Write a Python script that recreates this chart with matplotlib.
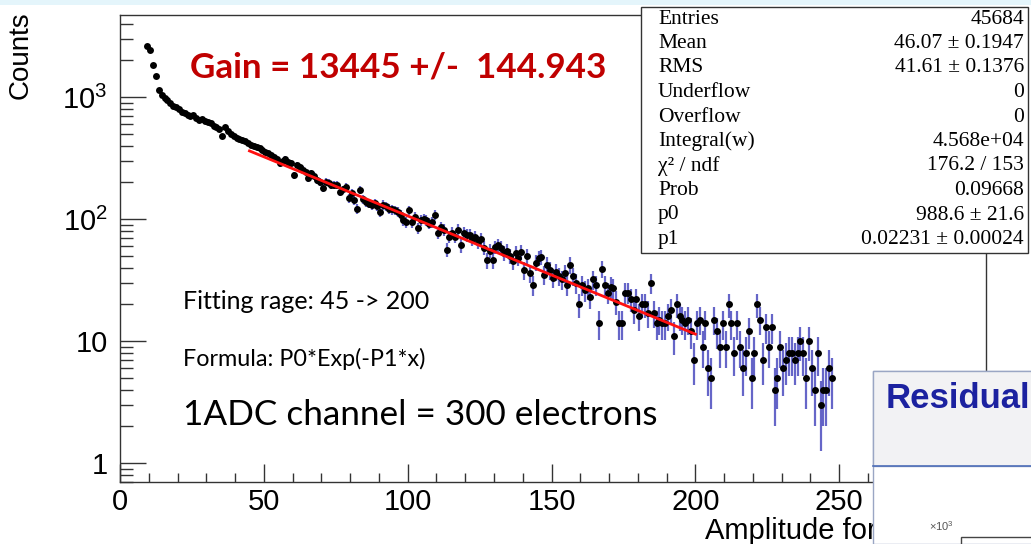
import numpy as np
import matplotlib
matplotlib.use("Agg")
import matplotlib.pyplot as plt
from matplotlib.patches import Rectangle
from matplotlib.lines import Line2D
from matplotlib.ticker import FixedLocator, LogLocator, NullFormatter, FixedFormatter, MultipleLocator

# ---------------- data ----------------
first_bin = 9  # lower edge of the first filled bin, bin width = 1 ADC channel
counts = [
    2617, 2438, 1834, 1481, 1136, 1038, 983, 940, 896, 852, 830,
    797, 753, 742, 720, 698, 709, 676, 654, 665, 643,
    626, 610, 576, 565, 548, 476, 565, 526, 498, 476,
    465, 453, 446, 436, 420, 403, 397, 393, 380, 369,
    358, 346, 335, 324, 312, 286, 301, 309, 295, 286,
    230, 278, 268, 255, 244, 216, 237, 227, 209, 202,
    179, 203, 198, 192, 190, 191, 168, 175, 184, 148,
    163, 143, 122, 173, 145, 138, 134, 131, 135, 128,
    115, 131, 127, 122, 120, 118, 115, 108, 98, 95,
    118, 95, 104, 84, 98, 101, 98, 92, 95, 108,
    77, 86, 82, 56, 72, 77, 72, 82, 61, 77,
    74, 74, 69, 72, 65, 69, 58, 46, 55, 46,
    59, 61, 58, 53, 55, 50, 45, 53, 48, 54,
    38, 50, 36, 29, 44, 48, 49, 35, 42, 38,
    33, 37, 34, 32, 36, 29, 42, 34, 30, 20,
    29, 26, 27, 23, 32, 29, 14, 39, 29, 25,
    28, 27, 21, 14, 14, 25, 25, 22, 18, 22,
    16, 20, 20, 17, 30, 17, 14, 15, 14, 14,
    16, 18, 11, 20, 16, 15, 14, 15, 12, 7,
    14, 15, 9, 14, 6, 5, 15, 12, 9, 14,
    9, 20, 14, 8, 14, 9, 6, 8, 12, 5,
    8, 20, 15, 7, 13, 9, 13, 4, 5, 9,
    6, 7, 8, 8, 7, 8, 10, 8, 5, 10,
    6, 4, 8, 3, 4, 4, 6, 5,
]
fit_p0 = 988.6        # fit parameters shown in the stats box
fit_p1 = 0.02231
fit_range = [45, 200]  # fitted interval (ADC channels)

x_ticks = [0, 50, 100, 150, 200, 250, 300]
x_tick_labels = ["0", "50", "100", "150", "200", "250", "300"]
y_ticks = [1, 10, 100, 1000]
y_tick_labels = ["1", "10", r"$10^{2}$", r"$10^{3}$"]

stats_names = ["Entries", "Mean", "RMS", "Underflow", "Overflow", "Integral(w)",
               "χ² / ndf", "Prob", "p0", "p1"]
stats_values = ["45684", "46.07 ± 0.1947", "41.61 ± 0.1376", "0", "0", "4.568e+04",
                "176.2 / 153", "0.09668", "988.6 ± 21.6", "0.02231 ± 0.00024"]

gain_text = "Gain = 13445 +/-  144.943"
note_lines = ["Fitting rage: 45 -> 200", "Formula: P0*Exp(-P1*x)",
              "1ADC channel = 300 electrons"]
x_title = "Amplitude for"
y_title = "Counts"
panel_title = "Residual"

# ---------------- style ----------------
plt.rcParams["mathtext.fontset"] = "custom"
plt.rcParams["mathtext.rm"] = "Liberation Sans"
plt.rcParams["mathtext.it"] = "Liberation Sans:italic"
plt.rcParams["mathtext.bf"] = "Liberation Sans:bold"
plt.rcParams["font.family"] = ["Liberation Sans", "DejaVu Sans"]

W, H = 1031, 544
fig = plt.figure(figsize=(W / 100, H / 100), dpi=100)
fig.patch.set_facecolor("white")


def fx(px):
    return px / W


def fy(py):
    return 1 - py / H


renderer = fig.canvas.get_renderer()


def fit_text(x_px, base_px, width_px, s, **kw):
    t = fig.text(fx(x_px), fy(base_px), s, ha="left", va="baseline", fontsize=20, **kw)
    bb = t.get_window_extent(renderer=renderer)
    t.set_fontsize(20 * width_px / bb.width)
    return t


# top light-blue strip of the slide
fig.add_artist(Rectangle((0, fy(5)), 1, 5 / H, transform=fig.transFigure,
                         facecolor="#e4f5fb", edgecolor="none", zorder=0))

# ---------------- main axes ----------------
ax_l, ax_r, ax_t, ax_b = 120, 986, 15, 482
ax = fig.add_axes([fx(ax_l), fy(ax_b), fx(ax_r) - fx(ax_l), fy(ax_t) - fy(ax_b)])
ax.set_yscale("log")
ax.set_xlim(0, 301)
ax.set_ylim(0.70, 4710)

centers = first_bin + np.arange(len(counts)) + 0.5
cnt = np.asarray(counts, dtype=float)
ax.errorbar(centers, cnt, yerr=np.sqrt(cnt), fmt="none", ecolor="#4040bb",
            elinewidth=1.6, alpha=0.8, zorder=2)
ax.plot(centers, cnt, "o", color="black", ms=5, mew=0, zorder=3)
xf = np.linspace(fit_range[0], fit_range[1], 100)
ax.plot(xf, fit_p0 * np.exp(-fit_p1 * xf), color="#ff1010", lw=2, zorder=4)

ax.xaxis.set_major_locator(FixedLocator(x_ticks))
ax.xaxis.set_major_formatter(FixedFormatter(x_tick_labels))
ax.xaxis.set_minor_locator(MultipleLocator(10))
ax.yaxis.set_major_locator(FixedLocator(y_ticks))
ax.yaxis.set_major_formatter(FixedFormatter(y_tick_labels))
ax.yaxis.set_minor_locator(LogLocator(base=10, subs=np.arange(2, 10)))
ax.yaxis.set_minor_formatter(NullFormatter())

ax.tick_params(axis="x", which="major", direction="in", length=13, width=1,
               color="#333333", labelsize=21, pad=4)
ax.tick_params(axis="x", which="minor", direction="in", length=6.5, width=1,
               color="#333333")
ax.tick_params(axis="y", which="major", direction="in", length=18.5, width=1,
               color="#333333", labelsize=21, pad=9)
ax.tick_params(axis="y", which="minor", direction="in", length=9.5, width=1,
               color="#333333")
for sp in ax.spines.values():
    sp.set_linewidth(1)
    sp.set_color("#333333")

# axis titles
fig.text(fx(21), fy(11), y_title, rotation=90, ha="center", va="top", fontsize=20)
fig.text(fx(705), fy(539), x_title, ha="left", va="baseline", fontsize=21)

# slide annotations
fit_text(190, 78, 416, gain_text, family=["Lato", "DejaVu Sans"], weight="bold",
         color="#c00000")
fit_text(183, 309, 247, note_lines[0], family=["Lato", "DejaVu Sans"])
fit_text(183, 366, 242, note_lines[1], family=["Lato", "DejaVu Sans"])
fit_text(183, 425, 475, note_lines[2], family=["Lato", "DejaVu Sans"])

# ---------------- stats box ----------------
sb_l, sb_t, sb_r, sb_b = 641, 7, 1028, 253
fig.add_artist(Rectangle((fx(sb_l), fy(sb_b)), fx(sb_r) - fx(sb_l), fy(sb_t) - fy(sb_b),
                         transform=fig.transFigure, facecolor="white",
                         edgecolor="#333333", lw=1, zorder=5))
for k, (nm, val) in enumerate(zip(stats_names, stats_values)):
    yc = 19 + 24.5 * k
    fig.text(fx(658), fy(yc), nm, ha="left", va="center", fontsize=15.5,
             family=["Liberation Serif", "DejaVu Serif"], zorder=6)
    fig.text(fx(1024), fy(yc), val, ha="right", va="center", fontsize=15.5,
             family=["Liberation Serif", "DejaVu Serif"], zorder=6)

# ---------------- residual panel (partly visible) ----------------
rp_l, rp_t = 873, 371
fig.add_artist(Rectangle((fx(rp_l), 0), 1 - fx(rp_l) + 0.01, fy(rp_t),
                         transform=fig.transFigure, facecolor="white",
                         edgecolor="#9aa6c4", lw=1, zorder=7))
fig.add_artist(Rectangle((fx(rp_l), fy(466)), 1 - fx(rp_l) + 0.01, fy(rp_t) - fy(466),
                         transform=fig.transFigure, facecolor="#f2f2f4",
                         edgecolor="#9aa6c4", lw=1, zorder=7))
fig.add_artist(Line2D([fx(rp_l), 1], [fy(466), fy(466)], transform=fig.transFigure,
                      color="#4f6fb8", lw=1.2, zorder=8))
fig.text(fx(886), fy(408), panel_title, ha="left", va="baseline", fontsize=25,
         weight="bold", color="#1c22a0", zorder=9)
fig.text(fx(929), fy(531), r"$\times10^{3}$", ha="left", va="baseline", fontsize=8,
         color="#555555", zorder=9)
fig.add_artist(Rectangle((fx(961), fy(560)), 0.2, fy(537) - fy(560),
                         transform=fig.transFigure, facecolor="none",
                         edgecolor="#444444", lw=1, zorder=9))

fig.savefig("out.png", dpi=100)
